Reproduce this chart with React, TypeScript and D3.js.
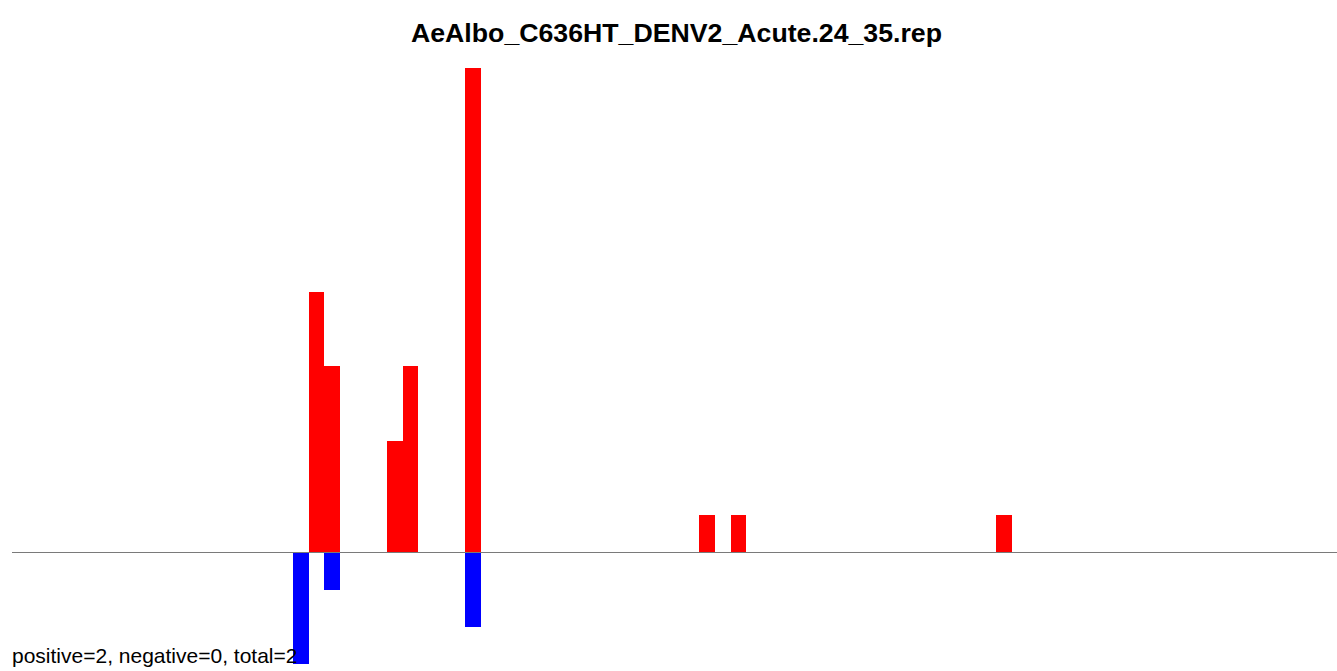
import { useEffect, useRef } from 'react'
import * as d3 from 'd3'

const title = 'AeAlbo_C636HT_DENV2_Acute.24_35.rep'
const footer = 'positive=2, negative=0, total=2'

// positions along the read (0..84) and counts
const positiveIdx = [19, 20, 24, 25, 29, 44, 46, 63]
const positiveCounts = [7, 5, 3, 5, 13, 1, 1, 1]
const negativeIdx = [18, 20, 29]
const negativeCounts = [3, 1, 2]
const slotCount = 85

const width = 1337
const height = 671

export default function App() {
  const svgRef = useRef<SVGSVGElement>(null)

  useEffect(() => {
    if (!svgRef.current) return
    const svg = d3.select(svgRef.current)
    svg.selectAll('*').remove()

    const x = d3.scaleLinear().domain([0, slotCount]).range([12, 1340])
    const y = d3.scaleLinear().domain([0, 13]).range([552.5, 68])
    const bw = x(1) - x(0)

    const pos = positiveIdx.map((p, i) => ({ p, v: positiveCounts[i] }))
    const neg = negativeIdx.map((p, i) => ({ p, v: negativeCounts[i] }))

    svg
      .append('text')
      .attr('x', 676.5)
      .attr('y', 42)
      .attr('text-anchor', 'middle')
      .attr('font-family', 'Liberation Sans, Arial, sans-serif')
      .attr('font-weight', 'bold')
      .attr('font-size', 26.7)
      .text(title)

    svg
      .append('g')
      .attr('shape-rendering', 'crispEdges')
      .selectAll('rect')
      .data(pos)
      .join('rect')
      .attr('x', (d) => x(d.p))
      .attr('width', bw)
      .attr('y', (d) => y(d.v))
      .attr('height', (d) => y(0) - y(d.v))
      .attr('fill', '#ff0000')

    svg
      .append('g')
      .attr('shape-rendering', 'crispEdges')
      .selectAll('rect')
      .data(neg)
      .join('rect')
      .attr('x', (d) => x(d.p))
      .attr('width', bw)
      .attr('y', y(0))
      .attr('height', (d) => y(0) - y(d.v))
      .attr('fill', '#0000ff')

    svg
      .append('line')
      .attr('x1', 12)
      .attr('x2', width)
      .attr('y1', y(0))
      .attr('y2', y(0))
      .attr('stroke', '#7a7a7a')
      .attr('stroke-width', 1)

    svg
      .append('text')
      .attr('x', 12)
      .attr('y', 663)
      .attr('font-family', 'Liberation Sans, Arial, sans-serif')
      .attr('font-size', 21)
      .text(footer)
  }, [])

  return (
    <svg
      ref={svgRef}
      width={width}
      height={height}
      style={{ position: 'absolute', left: 0, top: 0, background: '#fff' }}
    />
  )
}
